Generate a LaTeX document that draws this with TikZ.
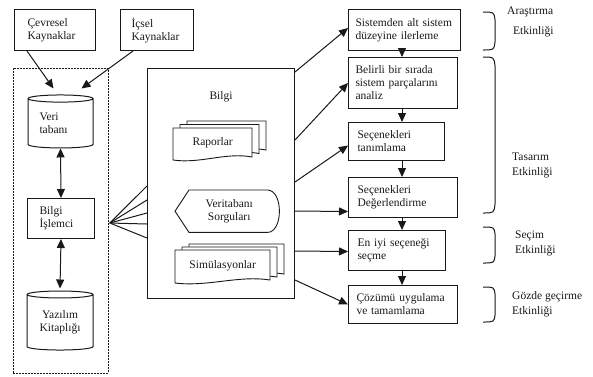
\documentclass[tikz,border=0pt]{standalone}
\usepackage{fontspec}
\setmainfont{Liberation Serif}
\usetikzlibrary{arrows.meta,shapes.geometric,backgrounds,calc}
\definecolor{ink}{gray}{0.1}
\begin{document}
\begin{tikzpicture}[x=1pt,y=-1pt,
  font=\fontsize{11.5}{13}\selectfont, text=ink,
  every node/.style={inner sep=0pt},
  tbox/.style={draw=ink, line width=1pt, align=left, anchor=north west},
  cyl/.style={cylinder, shape border rotate=90, draw=ink, line width=1pt, aspect=0.17, align=left},
  arr/.style={draw=ink, line width=1pt, -{Triangle[length=9pt,width=8pt]}},
  darr/.style={draw=ink, line width=1pt, {Triangle[length=9pt,width=8pt]}-{Triangle[length=9pt,width=8pt]}},
  fanline/.style={draw=ink, line width=1pt},
  sheet/.style={draw=ink, line width=0.9pt, fill=white},
  brk/.style={draw=ink, line width=1pt},
  lbl/.style={anchor=west, align=left}]
\useasboundingbox (0,0) rectangle (593,376);

% left sources
\node[tbox, minimum width=81, minimum height=41, text width=55] (cev) at (14,9) {Çevresel\\Kaynaklar};
\node[tbox, minimum width=73, minimum height=41, text width=51] (ics) at (120,9) {\mbox{İçsel}\\\mbox{Kaynaklar}};

% left container
\node[draw=ink, dash pattern=on 2pt off 1pt, line width=0.8pt, minimum width=95, minimum height=305, anchor=north west] (lc) at (13,68) {};

\node[cyl, minimum width=65, minimum height=53, text width=42] (vt) at (60.5,123.5) {Veri\\tabanı};
\node[tbox, minimum width=67, minimum height=40, text width=43] (bi) at (27,198) {Bilgi\\İşlemci};
\node[cyl, minimum width=66, minimum height=59, align=center] (yk) at (60,322.5) {Yazılım\\Kitaplığı};

\draw[arr] ($(cev.south west)+(13,0)$) -- ($(vt.north)+(-7,-6)$);
\draw[arr] ($(ics.south west)+(13,0)$) -- ($(vt.north)+(21,-6)$);
\draw[darr] (vt.south) -- (bi.north);
\draw[darr] (bi.south) -- ($(yk.north)+(0,-2)$);

% Bilgi box
\node[draw=ink, line width=1pt, minimum width=147, minimum height=230, anchor=north west] (bilgi) at (147,68) {};
\node (bilgil) at (221,97) {Bilgi};

\node[minimum width=79, minimum height=30, anchor=north west] (rap) at (173,128) {Raporlar};
\node[minimum width=108, minimum height=42, anchor=north west, align=center] (vs) at (175,190) {Veritabanı\\Sorguları};
\node[minimum width=95, minimum height=31, anchor=north west] (sim) at (175,250) {Simülasyonlar};

\begin{pgfonlayer}{background}
  \fill[white] (0,0) rectangle (593,376);
  % Raporlar stack
  \foreach \dx/\dy in {14/-7, 7/-3.5, 0/0} {
    \draw[sheet] ({173+\dx},{128+\dy}) -- ({252+\dx},{128+\dy}) -- ({252+\dx},{157+\dy})
      .. controls ({226+\dx},{152+\dy}) and ({200+\dx},{164+\dy}) .. ({173+\dx},{160+\dy}) -- cycle;
  }
  % Simulasyonlar stack
  \foreach \dx/\dy in {14/-6, 7/-3, 0/0} {
    \draw[sheet] ({175+\dx},{250+\dy}) -- ({270+\dx},{250+\dy}) -- ({270+\dx},{280+\dy})
      .. controls ({239+\dx},{275+\dy}) and ({208+\dx},{287+\dy}) .. ({175+\dx},{283+\dy}) -- cycle;
  }
  % display shape
  \draw[sheet] (vs.west) -- ($(vs.north west)+(14,0)$) -- ($(vs.north east)+(-16,0)$)
    .. controls ($(vs.north east)+(0,0)$) and ($(vs.south east)+(0,0)$) .. ($(vs.south east)+(-16,0)$)
    -- ($(vs.south west)+(14,0)$) -- cycle;
\end{pgfonlayer}

% fan
\coordinate (fan) at ($(lc.north east)+(1,155)$);
\foreach \d in {118,132,145,156,170} {
  \draw[fanline] (fan) -- ($(bilgi.north west)+(0,\d)$);
}

% right column
\node[tbox, minimum width=112, minimum height=41, text width=98] (b1) at (348,9) {\mbox{Sistemden alt sistem}\\\mbox{düzeyine ilerleme}};
\node[tbox, minimum width=109, minimum height=51, text width=95] (b2) at (348,57) {\mbox{Belirli bir sırada}\\\mbox{sistem parçalarını}\\analiz};
\node[tbox, minimum width=96, minimum height=38, text width=78] (b3) at (348,122) {Seçenekleri\\tanımlama};
\node[tbox, minimum width=109, minimum height=40, text width=91] (b4) at (348,177) {Seçenekleri\\Değerlendirme};
\node[tbox, minimum width=97, minimum height=40, text width=79] (b5) at (348,230) {\mbox{En iyi seçeneği}\\seçme};
\node[tbox, minimum width=109, minimum height=38, text width=93] (b6) at (348,285) {\mbox{Çözümü uygulama}\\\mbox{ve tamamlama}};

\draw[arr] ($(b1.south west)+(54,0)$) -- ($(b2.north west)+(54,0)$);
\draw[arr] ($(b2.south west)+(54,0)$) -- ($(b3.north west)+(54,0)$);
\draw[arr] ($(b3.south west)+(54,0)$) -- ($(b4.north west)+(54,0)$);
\draw[arr] ($(b4.south west)+(54,0)$) -- ($(b5.north west)+(54,0)$);
\draw[arr] ($(b5.south west)+(54,0)$) -- ($(b6.north west)+(54,0)$);

\draw[arr] ($(bilgi.north east)+(0,4)$) -- ($(b1.west)+(0,-2)$);
\draw[arr] ($(bilgi.north east)+(0,72)$) -- (b2.west);
\draw[arr] ($(bilgi.north east)+(0,114)$) -- ($(b3.west)+(0,4)$);
\draw[arr] ($(bilgi.north east)+(0,143)$) -- ($(b4.west)+(0,14)$);
\draw[arr] ($(bilgi.north east)+(0,183)$) -- ($(b5.west)+(0,1)$);
\draw[arr] ($(bilgi.north east)+(0,212)$) -- (b6.west);

% brackets
\draw[brk] (483,12) .. controls (494,12) .. (495,20) -- (495,42) .. controls (494,50) .. (483,50);
\draw[brk] (483,57) .. controls (494,57) .. (495,66) -- (495,204) .. controls (494,213) .. (483,213);
\draw[brk] (483,227) .. controls (494,227) .. (495,234) -- (495,256) .. controls (494,263) .. (483,263);
\draw[brk] (483,287) .. controls (494,287) .. (495,294) -- (495,315) .. controls (494,322) .. (483,322);

\node[lbl] (l1a) at (507,12) {Araştırma};
\node[lbl] (l1b) at (513,32) {Etkinliği};
\node[lbl] (l2a) at (512,157) {Tasarım};
\node[lbl] (l2b) at (512,173) {Etkinliği};
\node[lbl] (l3a) at (515,236) {Seçim};
\node[lbl] (l3b) at (515,251) {Etkinliği};
\node[lbl] (l4a) at (512,297) {Gözde geçirme};
\node[lbl] (l4b) at (512,312) {Etkinliği};
\end{tikzpicture}
\end{document}
